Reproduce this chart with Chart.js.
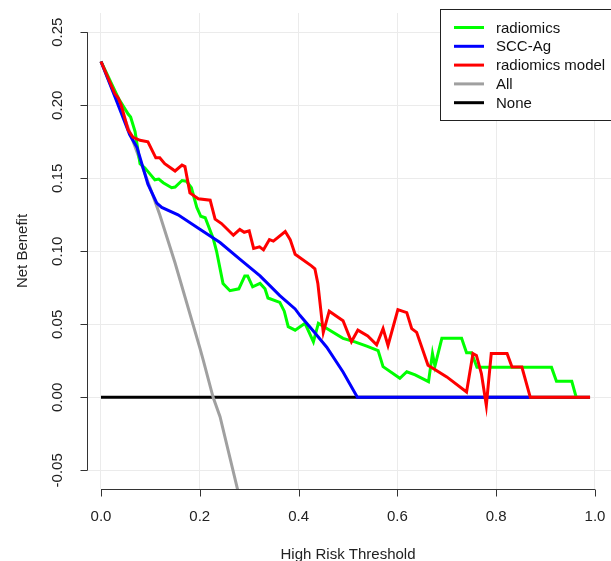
<!DOCTYPE html>
<html>
<head>
<meta charset="utf-8">
<script src="https://cdn.jsdelivr.net/npm/chart.js@4.4.1/dist/chart.umd.min.js"></script>
<style>
html,body{margin:0;padding:0;background:#fff;overflow:hidden}
#wrap{width:611px;height:561px;position:relative}
canvas{display:block}
</style>
</head>
<body>
<div id="wrap"><canvas id="c" width="611" height="561"></canvas></div>
<script>
// ---- tick labels ----
const xTickValues = [0, 0.2, 0.4, 0.6, 0.8, 1.0];
const xTickLabels = ["0.0", "0.2", "0.4", "0.6", "0.8", "1.0"];
const yTickValues = [-0.05, 0, 0.05, 0.10, 0.15, 0.20, 0.25];
const yTickLabels = ["-0.05", "0.00", "0.05", "0.10", "0.15", "0.20", "0.25"];
const xTitle = "High Risk Threshold";
const yTitle = "Net Benefit";

// ---- series ----
const seriesNames = ["radiomics", "SCC-Ag", "radiomics model", "All", "None"];
const seriesColors = ["#00FF00", "#0000FF", "#FF0000", "#A0A0A0", "#000000"];

const radiomicsX = [0, 0.035, 0.055, 0.060, 0.069, 0.079, 0.089, 0.099, 0.109, 0.117, 0.126, 0.143, 0.150, 0.164, 0.173, 0.183, 0.194, 0.202, 0.211, 0.227, 0.234, 0.247, 0.261, 0.279, 0.291, 0.297, 0.307, 0.322, 0.332, 0.338, 0.362, 0.371, 0.379, 0.393, 0.413, 0.430, 0.440, 0.453, 0.490, 0.514, 0.538, 0.561, 0.571, 0.605, 0.619, 0.636, 0.663, 0.671, 0.676, 0.690, 0.730, 0.740, 0.750, 0.761, 0.912, 0.922, 0.953, 0.962];
const radiomicsY = [0.230, 0.205, 0.194, 0.192, 0.182, 0.160, 0.157, 0.153, 0.149, 0.1495, 0.147, 0.1435, 0.144, 0.1485, 0.148, 0.1435, 0.130, 0.124, 0.123, 0.109, 0.100, 0.078, 0.073, 0.0743, 0.083, 0.083, 0.0757, 0.078, 0.0743, 0.068, 0.065, 0.059, 0.0484, 0.046, 0.0507, 0.038, 0.0507, 0.048, 0.0404, 0.038, 0.035, 0.032, 0.021, 0.013, 0.0175, 0.0153, 0.0107, 0.030, 0.0214, 0.0404, 0.0404, 0.0305, 0.0305, 0.0205, 0.0205, 0.011, 0.011, 0.0];

const sccX = [0, 0.028, 0.058, 0.073, 0.095, 0.113, 0.123, 0.156, 0.201, 0.241, 0.281, 0.322, 0.362, 0.393, 0.403, 0.429, 0.457, 0.490, 0.519, 0.869];
const sccY = [0.230, 0.206, 0.180, 0.171, 0.146, 0.133, 0.130, 0.125, 0.115, 0.106, 0.0946, 0.0832, 0.0696, 0.0605, 0.056, 0.0457, 0.0343, 0.0173, 0.0, 0.0];

const modelX = [0, 0.028, 0.035, 0.041, 0.055, 0.065, 0.079, 0.095, 0.111, 0.119, 0.129, 0.150, 0.164, 0.170, 0.180, 0.197, 0.221, 0.231, 0.244, 0.268, 0.281, 0.290, 0.300, 0.309, 0.321, 0.329, 0.341, 0.349, 0.373, 0.383, 0.393, 0.426, 0.433, 0.439, 0.450, 0.462, 0.490, 0.507, 0.520, 0.540, 0.558, 0.571, 0.581, 0.601, 0.619, 0.629, 0.639, 0.662, 0.700, 0.740, 0.753, 0.760, 0.770, 0.780, 0.790, 0.822, 0.832, 0.852, 0.869, 0.990];
const modelY = [0.230, 0.208, 0.205, 0.200, 0.183, 0.178, 0.176, 0.175, 0.164, 0.164, 0.160, 0.155, 0.159, 0.158, 0.140, 0.136, 0.135, 0.122, 0.119, 0.111, 0.115, 0.113, 0.114, 0.102, 0.103, 0.101, 0.108, 0.107, 0.1135, 0.108, 0.098, 0.090, 0.088, 0.078, 0.0445, 0.059, 0.0525, 0.038, 0.046, 0.042, 0.036, 0.047, 0.0355, 0.060, 0.058, 0.047, 0.0445, 0.022, 0.014, 0.0036, 0.030, 0.0287, 0.0163, -0.0055, 0.030, 0.030, 0.0207, 0.0207, 0.0, 0.0];

const allX = [0, 0.05, 0.10, 0.119, 0.15, 0.20, 0.207, 0.227, 0.241, 0.275, 0.280];
const allY = [0.230, 0.189, 0.143, 0.125, 0.092, 0.034, 0.0255, 0.0, -0.0133, -0.061, -0.068];

const noneX = [0, 0.99];
const noneY = [0, 0];

const seriesX = [radiomicsX, sccX, modelX, allX, noneX];
const seriesY = [radiomicsY, sccY, modelY, allY, noneY];
const drawOrder = [2, 1, 0, 3, 4]; // lower = on top

const FONT = '"Liberation Sans", Arial, Helvetica, sans-serif';

const datasets = seriesNames.map((name, i) => ({
  label: name,
  data: seriesX[i].map((x, j) => ({x: x, y: seriesY[i][j]})),
  borderColor: seriesColors[i],
  backgroundColor: seriesColors[i],
  borderWidth: 3,
  pointRadius: 0,
  pointHoverRadius: 0,
  tension: 0,
  fill: false,
  order: drawOrder[i]
}));

const rAxesPlugin = {
  id: 'rAxes',
  afterDraw(chart) {
    const ctx = chart.ctx;
    const xs = chart.scales.x, ys = chart.scales.y;
    const area = chart.chartArea;
    ctx.save();
    ctx.strokeStyle = '#333333';
    ctx.fillStyle = '#222222';
    ctx.lineWidth = 1;
    // x axis
    const yAxis = Math.round(area.bottom) + 0.5;
    const x0 = xs.getPixelForValue(xTickValues[0]);
    const x1 = xs.getPixelForValue(xTickValues[xTickValues.length - 1]);
    ctx.beginPath();
    ctx.moveTo(x0, yAxis); ctx.lineTo(x1, yAxis);
    xTickValues.forEach(v => {
      const px = Math.round(xs.getPixelForValue(v)) + 0.5;
      ctx.moveTo(px, yAxis); ctx.lineTo(px, yAxis + 7);
    });
    ctx.stroke();
    ctx.font = '15px ' + FONT;
    ctx.textAlign = 'center';
    ctx.textBaseline = 'middle';
    xTickValues.forEach((v, i) => {
      ctx.fillText(xTickLabels[i], xs.getPixelForValue(v), 517);
    });
    // y axis
    const xAxis = Math.round(area.left) + 0.5;
    const yb = ys.getPixelForValue(yTickValues[0]);
    const yt = ys.getPixelForValue(yTickValues[yTickValues.length - 1]);
    ctx.beginPath();
    ctx.moveTo(xAxis, yb); ctx.lineTo(xAxis, yt);
    yTickValues.forEach(v => {
      const py = Math.round(ys.getPixelForValue(v)) + 0.5;
      ctx.moveTo(xAxis, py); ctx.lineTo(xAxis - 7, py);
    });
    ctx.stroke();
    yTickValues.forEach((v, i) => {
      ctx.save();
      ctx.translate(58, ys.getPixelForValue(v));
      ctx.rotate(-Math.PI / 2);
      ctx.fillText(yTickLabels[i], 0, 0);
      ctx.restore();
    });
    // titles
    ctx.textBaseline = 'alphabetic';
    ctx.fillText(xTitle, 348, 559);
    ctx.save();
    ctx.translate(23, (area.top + area.bottom) / 2);
    ctx.rotate(-Math.PI / 2);
    ctx.textBaseline = 'middle';
    ctx.fillText(yTitle, 0, 0);
    ctx.restore();

    // legend
    const lx = 440.5, ly = 9.5, lw = 200, lh = 111;
    ctx.fillStyle = '#ffffff';
    ctx.fillRect(lx, ly, lw, lh);
    ctx.strokeStyle = '#222222';
    ctx.lineWidth = 1;
    ctx.strokeRect(lx, ly, lw, lh);
    ctx.textAlign = 'left';
    ctx.textBaseline = 'middle';
    ctx.font = '15px ' + FONT;
    seriesNames.forEach((name, i) => {
      const yy = 27.5 + i * 18.8;
      ctx.strokeStyle = seriesColors[i];
      ctx.lineWidth = 3;
      ctx.beginPath();
      ctx.moveTo(454, yy); ctx.lineTo(484, yy);
      ctx.stroke();
      ctx.fillStyle = '#111111';
      ctx.fillText(name, 496, yy + 1);
    });
    ctx.restore();
  }
};

new Chart(document.getElementById('c'), {
  type: 'line',
  data: { datasets: datasets },
  options: {
    responsive: false,
    animation: false,
    devicePixelRatio: 1,
    parsing: true,
    layout: { padding: { left: 87, right: 0, top: 13, bottom: 72 } },
    plugins: { legend: { display: false }, tooltip: { enabled: false } },
    events: [],
    scales: {
      x: {
        type: 'linear',
        min: -0.0283,
        max: 1.0324,
        border: { display: false },
        grid: { color: '#ebebeb', lineWidth: 1, drawTicks: false },
        ticks: { display: false },
        afterBuildTicks: s => { s.ticks = xTickValues.map(v => ({ value: v })); }
      },
      y: {
        type: 'linear',
        min: -0.0628,
        max: 0.2632,
        border: { display: false },
        grid: { color: '#ebebeb', lineWidth: 1, drawTicks: false },
        ticks: { display: false },
        afterBuildTicks: s => { s.ticks = yTickValues.map(v => ({ value: v })); }
      }
    }
  },
  plugins: [rAxesPlugin]
});
</script>
</body>
</html>
